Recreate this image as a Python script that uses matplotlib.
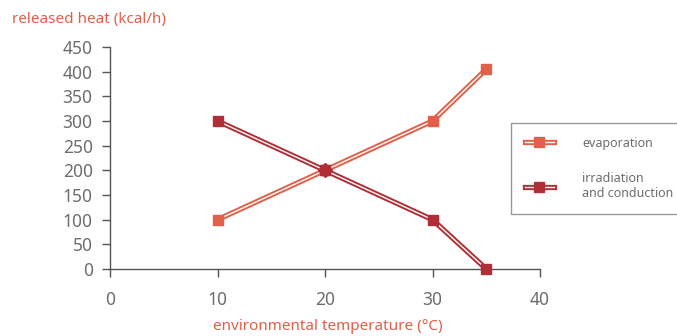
import matplotlib
matplotlib.use("Agg")
import matplotlib.pyplot as plt
import matplotlib.patheffects as pe
from matplotlib.legend_handler import HandlerTuple

plt.rcParams["font.family"] = ["Noto Sans", "DejaVu Sans"]

temperature = [10, 20, 30, 35]
evaporation = [100, 200, 300, 405]
irradiation = [300, 200, 100, 0]
series_labels = ["evaporation", "irradiation\nand conduction"]
x_ticks = [0, 10, 20, 30, 40]
y_ticks = [0, 50, 100, 150, 200, 250, 300, 350, 400, 450]

EVAP = "#e0604a"
IRRA = "#b02f36"
LABEL = "#e0604a"
TICK = "#6d6d6d"
SPINE = "#555555"

fig = plt.figure(figsize=(6.77, 3.36), dpi=100)
ax = fig.add_axes([110 / 677, 67 / 336, 430 / 677, 222 / 336])


def double_line(color):
    return [pe.Stroke(linewidth=3.8, foreground=color), pe.Normal()]


handles = []
for ys, color in [(evaporation, EVAP), (irradiation, IRRA)]:
    ln, = ax.plot(temperature, ys, color="white", lw=1.0, clip_on=False,
                  path_effects=double_line(color), zorder=3)
    mk, = ax.plot(temperature, ys, ls="none", marker="s", ms=7.5,
                  color=color, clip_on=False, zorder=4)
    handles.append((ln, mk))

# crossing point appears as a diamond
ax.plot(temperature[1], irradiation[1], marker="D", ms=7, color=IRRA,
        ls="none", zorder=5, clip_on=False)

ax.set_xlim(0, 40)
ax.set_ylim(0, 450)
ax.set_xticks(x_ticks)
ax.set_yticks(y_ticks)
for s in ["top", "right"]:
    ax.spines[s].set_visible(False)
for s in ["left", "bottom"]:
    ax.spines[s].set_color(SPINE)
    ax.spines[s].set_linewidth(1.0)
ax.tick_params(colors=SPINE, labelcolor=TICK, labelsize=12.5, length=5.5,
               width=1.0)
ax.tick_params(axis="x", pad=10)
ax.tick_params(axis="y", pad=7)

fig.text(12 / 677, 1 - 20 / 336, "released heat (kcal/h)", color=LABEL,
         fontsize=11, va="center", ha="left")
fig.text(328 / 677, 1 - 327 / 336, "environmental temperature (°C)",
         color=LABEL, fontsize=11, va="center", ha="center")

leg = fig.legend(handles, series_labels, loc="upper left",
                 bbox_to_anchor=(511 / 677, 1 - 123 / 336), borderaxespad=0,
                 handler_map={tuple: HandlerTuple(ndivide=1)},
                 fontsize=9, labelcolor=TICK, fancybox=False,
                 edgecolor="#999999", handlelength=2.3, handletextpad=2.3,
                 borderpad=1.1, labelspacing=1.8, framealpha=1)
leg.get_frame().set_linewidth(1.0)
for t in leg.get_texts():
    t.set_linespacing(1.15)

fig.savefig("out.png", dpi=100)
